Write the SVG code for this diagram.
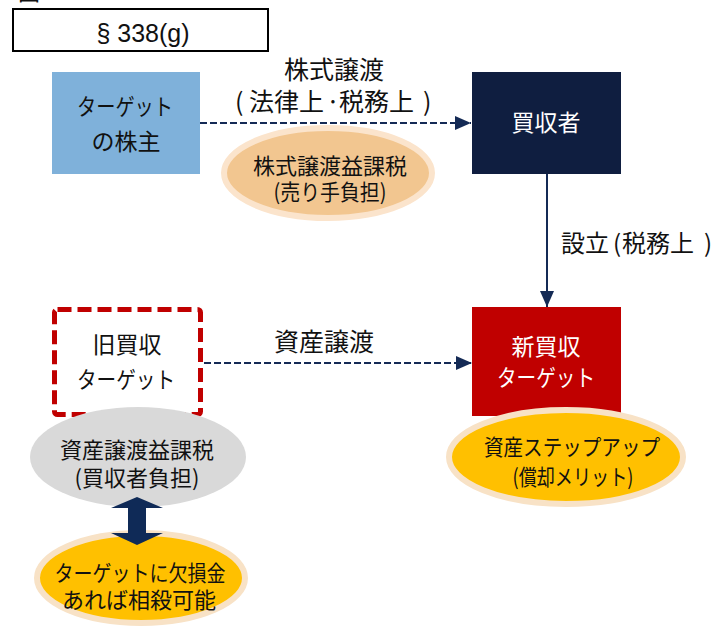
<svg xmlns="http://www.w3.org/2000/svg" width="721" height="626" viewBox="0 0 721 626">
<defs>
<style>
text{font-family:"Noto Sans CJK JP","Noto Sans",sans-serif;text-anchor:middle;}
.lbl{font-size:25px;fill:#111;}
.ls{font-size:25px;fill:#111;text-anchor:start;}
.box{font-size:23px;}
.ell{font-size:22px;fill:#111;}
.dk{fill:#111;}
.wt{fill:#fff;}
.dash{stroke:#142a55;stroke-width:2;stroke-dasharray:7 3;fill:none;}
.solid{stroke:#142a55;stroke-width:2;fill:none;}
</style>
<marker id="ah" viewBox="0 0 16 14" refX="16" refY="7" markerWidth="16" markerHeight="14" markerUnits="userSpaceOnUse" orient="auto">
<path d="M0,0 L16,7 L0,14 Z" fill="#142a55"/>
</marker>
</defs>
<rect width="721" height="626" fill="#fff"/>
<text x="29" y="0" style="font-size:22px" class="dk">図</text>

<g id="title">
<rect x="13" y="9" width="255" height="42" fill="#fff" stroke="#000" stroke-width="2"/>
<text x="143" y="42" style="font-family:'Liberation Sans',Arial,sans-serif;font-size:25px" class="dk">§ 338(g)</text>
</g>

<g id="connectors">
<line class="dash" x1="200" y1="123" x2="471" y2="123" marker-end="url(#ah)"/>
<line class="solid" x1="547" y1="174" x2="547" y2="307" marker-end="url(#ah)"/>
<line class="dash" x1="204" y1="363" x2="472" y2="363" marker-end="url(#ah)"/>
<text class="lbl" x="334" y="79">株式譲渡</text>
<text class="ls" x="235" y="111">(</text>
<text class="ls" x="249" y="111">法律上</text>
<text class="lbl" x="333" y="111">·</text>
<text class="ls" x="339" y="111">税務上</text>
<text class="ls" x="423" y="111">)</text>
<text class="ls" x="561" y="252" style="font-size:24px">設立</text>
<text class="ls" x="613" y="252" style="font-size:24px">(</text>
<text class="ls" x="622" y="252" style="font-size:24px">税務上</text>
<text class="ls" x="704" y="252" style="font-size:24px">)</text>
<text class="lbl" x="324" y="351">資産譲渡</text>
</g>

<g id="shareholders">
<rect x="52" y="72" width="148" height="102" fill="#7fb1da"/>
<text class="box dk" x="125" y="115" textLength="96" lengthAdjust="spacingAndGlyphs">ターゲット</text>
<text class="box dk" x="126" y="150">の株主</text>
</g>

<g id="buyer">
<rect x="472" y="72" width="149" height="102" fill="#0f1e40"/>
<text class="box wt" x="546" y="131">買収者</text>
</g>

<g id="shareTax">
<ellipse cx="328" cy="173" rx="104" ry="45" fill="#f2c690" stroke="#fbe4cc" stroke-width="6"/>
<text class="ell" x="330" y="174">株式譲渡益課税</text>
<text class="ell" x="330" y="200" textLength="113" lengthAdjust="spacingAndGlyphs">(売り手負担)</text>
</g>

<g id="newTarget">
<rect x="472" y="307" width="149" height="109" fill="#c00000"/>
<text class="box wt" x="546" y="355">新買収</text>
<text class="box wt" x="546" y="386" textLength="98" lengthAdjust="spacingAndGlyphs">ターゲット</text>
</g>

<g id="stepUp">
<ellipse cx="566" cy="457" rx="117" ry="47" fill="#ffc000" stroke="#f8e2c6" stroke-width="6"/>
<text class="ell" x="572" y="455" textLength="176" lengthAdjust="spacingAndGlyphs">資産ステップアップ</text>
<text class="ell" x="573" y="485" textLength="121" lengthAdjust="spacingAndGlyphs">(償却メリット)</text>
</g>

<g id="oldTarget">
<rect x="54.5" y="309.5" width="146" height="105" rx="3" fill="#fff" stroke="#c00000" stroke-width="5" stroke-dasharray="14 6"/>
<text class="box dk" x="127" y="353">旧買収</text>
<text class="box dk" x="126" y="388" textLength="98" lengthAdjust="spacingAndGlyphs">ターゲット</text>
</g>

<g id="assetTax">
<ellipse cx="138" cy="457" rx="108" ry="50" fill="#d9d9d9"/>
<text class="ell" x="137" y="458">資産譲渡益課税</text>
<text class="ell" x="137" y="486">(買収者負担)</text>
</g>

<g id="nol">
<ellipse cx="141" cy="578" rx="104" ry="45" fill="#ffc000" stroke="#f8e2c6" stroke-width="6"/>
<text class="ell" x="140" y="581" textLength="171" lengthAdjust="spacingAndGlyphs">ターゲットに欠損金</text>
<text class="ell" x="139" y="608">あれば相殺可能</text>
</g>

<g id="offsetArrow">
<path d="M137,497 L163,508 L146,508 L146,533 L163,533 L137,545 L111,533 L128,533 L128,508 L111,508 Z" fill="#0f2a57"/>
</g>
</svg>
